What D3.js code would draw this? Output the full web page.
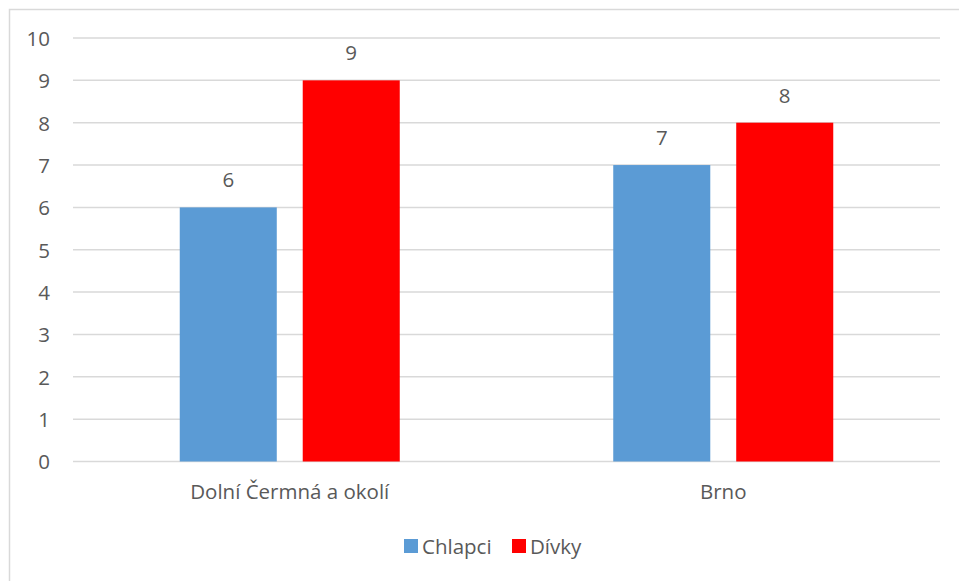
<!DOCTYPE html>
<html><head><meta charset="utf-8">
<script src="https://cdn.jsdelivr.net/npm/d3@7"></script>
<style>body{margin:0;background:#fff}svg{display:block}text{font-family:"Open Sans",sans-serif;fill:#595959}</style>
</head><body><svg id="c" width="959" height="581"></svg>
<script>
const categories = ["Dolní Čermná a okolí", "Brno"];
const seriesNames = ["Chlapci", "Dívky"];
const chlapci = [6, 7];
const divky = [9, 8];
const yTicks = [0,1,2,3,4,5,6,7,8,9,10];
const colors = ["#5b9bd5", "#ff0000"];

(function(){
const FS = 20.5;
const svg = d3.select("#c");
svg.append("rect").attr("x",9.5).attr("y",9.5).attr("width",1000).attr("height",1000)
  .attr("fill","#fff").attr("stroke","#d9d9d9").attr("stroke-width",1.5);

const pLeft = 73, pRight = 940, pTop = 38, pBottom = 461.5;
const x = d3.scaleBand().domain(categories).range([pLeft, pRight]);
const y = d3.scaleLinear().domain([0,10]).range([pBottom, pTop]);
const inner = d3.scaleBand().domain(seriesNames).range([0, x.bandwidth()]).paddingInner(0.211).paddingOuter(0.868);

svg.append("g").selectAll("line").data(yTicks).join("line")
  .attr("x1", pLeft).attr("x2", pRight)
  .attr("y1", d=>y(d)).attr("y2", d=>y(d))
  .attr("stroke","#d9d9d9").attr("stroke-width",1.5);

const yAxis = d3.axisLeft(y).tickValues(yTicks).tickSize(0).tickPadding(0);
const ya = svg.append("g").attr("transform","translate(50,0)").call(yAxis);
ya.select(".domain").remove();
ya.selectAll("text").style("font-size",FS+"px").style("font-family","Open Sans").attr("fill","#595959").attr("dy","0.36em");

const series = [chlapci, divky];
series.forEach((vals, si) => {
  const sg = svg.append("g");
  sg.selectAll("rect").data(categories).join("rect")
    .attr("x", (c)=>x(c)+inner(seriesNames[si]))
    .attr("width", inner.bandwidth())
    .attr("y", (c,i)=>y(vals[i]))
    .attr("height", (c,i)=>y(0)-y(vals[i]))
    .attr("fill", colors[si]);
  sg.selectAll("text").data(categories).join("text")
    .attr("x", (c)=>x(c)+inner(seriesNames[si])+inner.bandwidth()/2)
    .attr("y", (c,i)=>y(vals[i])-20)
    .attr("text-anchor","middle").style("font-size",FS+"px")
    .text((c,i)=>vals[i]);
});

const xAxis = d3.axisBottom(x).tickSize(0).tickPadding(0);
const xa = svg.append("g").attr("transform",`translate(0,${pBottom})`).call(xAxis);
xa.select(".domain").remove();
xa.selectAll("text").style("font-size",FS+"px").style("font-family","Open Sans").attr("fill","#595959").attr("y",37).attr("dy",0);

const legendX = [404, 512];
const lg = svg.append("g");
seriesNames.forEach((n,i)=>{
  lg.append("rect").attr("x",legendX[i]).attr("y",539).attr("width",14).attr("height",14).attr("fill",colors[i]);
  lg.append("text").attr("x",legendX[i]+18).attr("y",554).style("font-size",FS+"px").text(n);
});
})();
</script></body></html>
